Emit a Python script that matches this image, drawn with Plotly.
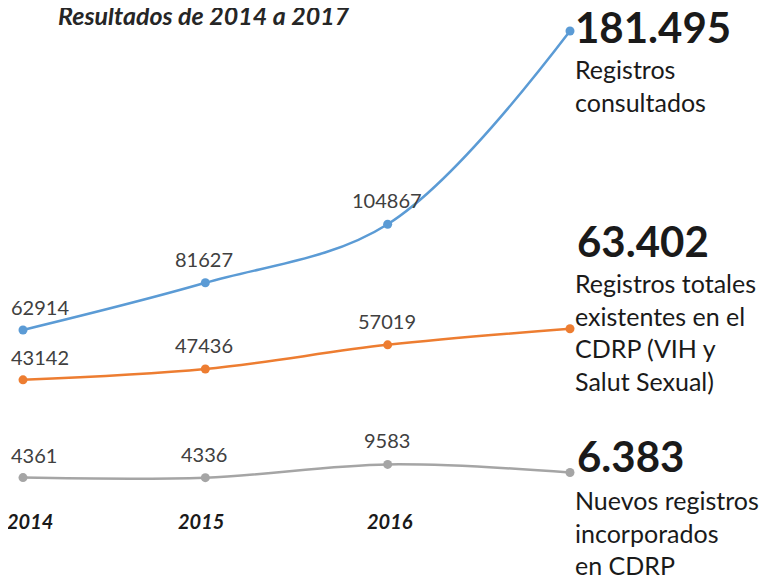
import plotly.graph_objects as go

years = ["2014", "2015", "2016", "2017"]
consultados = [62914, 81627, 104867, 181495]
totales = [43142, 47436, 57019, 63402]
nuevos = [4361, 4336, 9583, 6383]

big_labels = ["181.495", "63.402", "6.383"]
descs = ["Registros<br>consultados",
         "Registros totales<br>existentes en el<br>CDRP (VIH y<br>Salut Sexual)",
         "Nuevos registros<br>incorporados<br>en CDRP"]
title_text = "Resultados de 2014 a 2017"

colors = ["#5B9BD5", "#ED7D31", "#A5A5A5"]
series = [consultados, totales, nuevos]
FONT = "Lato"

xs = list(range(len(years)))
fig = go.Figure()
for vals, c in zip(series, colors):
    fig.add_trace(go.Scatter(
        x=xs, y=vals, mode="lines+markers",
        line=dict(color=c, width=2.5, shape="spline", smoothing=1.0),
        marker=dict(color=c, size=9),
        hoverinfo="skip", showlegend=False))

ann = []
for vals in series:
    for i in range(len(years) - 1):
        if i == 0:
            ann.append(dict(x=xs[i], y=vals[i], xref="x", yref="y", text=str(vals[i]),
                            showarrow=False, xanchor="left", yanchor="middle",
                            xshift=-14, yshift=23,
                            font=dict(family=FONT, size=20, color="#404040")))
        else:
            ann.append(dict(x=xs[i], y=vals[i], xref="x", yref="y", text=str(vals[i]),
                            showarrow=False, xanchor="center", yanchor="middle",
                            xshift=-1, yshift=24,
                            font=dict(family=FONT, size=20, color="#404040")))

big_shift = [4, 88, 17]
big_x = [3, 5, 5]
desc_shift = [-22, 62, -11]
for vals, b, d, bs, bx, ds in zip(series, big_labels, descs, big_shift, big_x, desc_shift):
    ann.append(dict(x=xs[-1], y=vals[-1], xref="x", yref="y", text="<b>" + b + "</b>",
                    showarrow=False, xanchor="left", yanchor="middle", xshift=bx, yshift=bs,
                    font=dict(family=FONT, size=42, color="#1a1a1a")))
    ann.append(dict(x=xs[-1], y=vals[-1], xref="x", yref="y", text=d, align="left",
                    showarrow=False, xanchor="left", yanchor="top", xshift=4, yshift=ds,
                    borderpad=0,
                    font=dict(family=FONT, size=25, color="#1a1a1a")))

OFF = 8  # page offset of the figure
H = 578
year_shift = [7, -4, 2]
for i in range(len(years) - 1):
    ann.append(dict(x=xs[i], y=1 - (521 - OFF) / H, xref="x", yref="paper",
                    text="<b><i>" + years[i] + "</i></b>", showarrow=False,
                    xanchor="center", yanchor="middle", xshift=year_shift[i],
                    font=dict(family=FONT, size=20, color="#1a1a1a")))

ann.append(dict(x=(204 - OFF) / 768, y=1 - (15 - OFF) / H, xref="paper", yref="paper",
                text="<b><i>" + title_text + "</i></b>", showarrow=False,
                xanchor="center", yanchor="middle",
                font=dict(family=FONT, size=25, color="#262626")))

px_per_unit = 182.33
ppv = 396.6
x0 = 23 - OFF
y0 = 488.6 - OFF
ytop = 31 - OFF
fig.update_layout(
    width=768, height=578,
    margin=dict(l=0, r=0, t=0, b=0),
    paper_bgcolor="white", plot_bgcolor="white",
    xaxis=dict(range=[-x0 / px_per_unit, (768 - x0) / px_per_unit], visible=False, fixedrange=True),
    yaxis=dict(range=[-(H - y0) * ppv, 181495 + ytop * ppv], visible=False, fixedrange=True),
    annotations=ann,
)
fig.write_html("out.html")
